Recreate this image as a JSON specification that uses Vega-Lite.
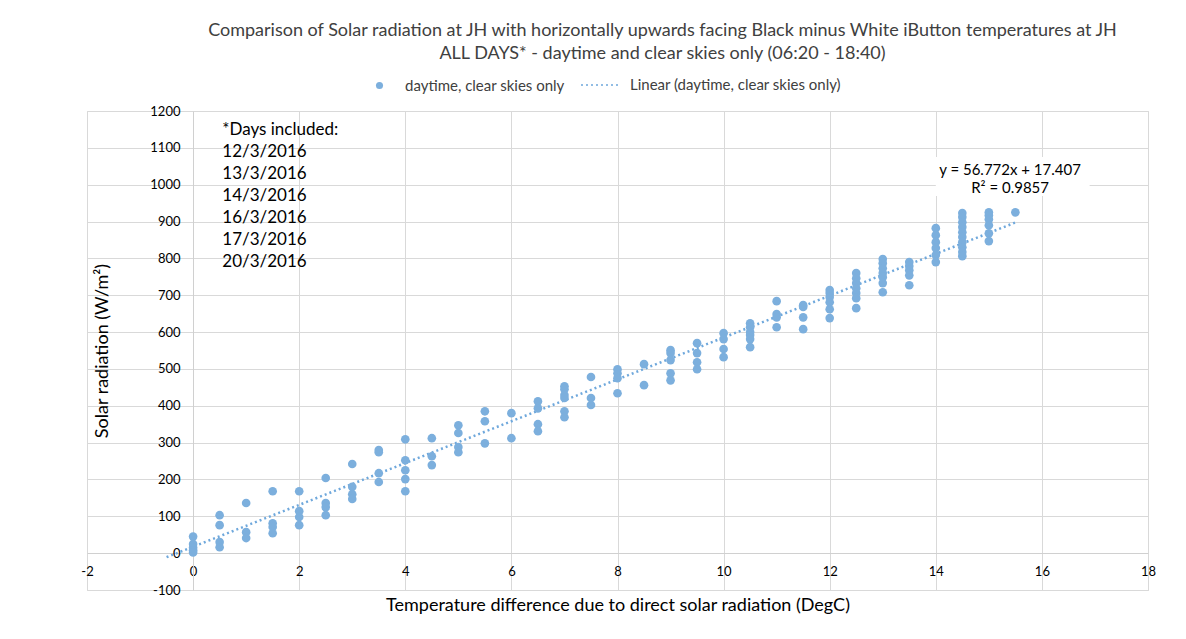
{
  "$schema": "https://vega.github.io/schema/vega-lite/v6.json",
  "width": 1061,
  "height": 479,
  "autosize": {"type": "none"},
  "padding": {"left": 87, "top": 111, "right": 38, "bottom": 49},
  "background": "white",
  "config": {
    "font": "Lato",
    "view": {"stroke": "#d9d9d9"},
    "axis": {"gridColor": "#d9d9d9", "domainColor": "#d0d0d0", "ticks": false, "labelFont": "Lato", "labelFontSize": 13, "labelColor": "#000000", "titleFont": "Lato", "titleFontWeight": "normal", "titleFontSize": 18, "titleColor": "#000000", "labelOverlap": false, "labelBound": false, "labelFlush": false}
  },
  "title": {
    "text": ["Comparison of Solar radiation at JH with horizontally upwards facing Black minus White iButton temperatures at JH", "ALL DAYS* - daytime and clear skies only (06:20 - 18:40)"],
    "font": "Lato",
    "fontSize": 18,
    "fontWeight": "normal",
    "color": "#404040",
    "anchor": "middle",
    "dx": 45,
    "offset": 1,
    "lineHeight": 23
  },
  "datasets": {
    "points": [
      {"dT": 0, "rad": 45}, {"dT": 0, "rad": 25}, {"dT": 0, "rad": 15}, {"dT": 0, "rad": 8}, {"dT": 0, "rad": 2},
      {"dT": 0.5, "rad": 103}, {"dT": 0.5, "rad": 76}, {"dT": 0.5, "rad": 30}, {"dT": 0.5, "rad": 16},
      {"dT": 1, "rad": 136}, {"dT": 1, "rad": 57}, {"dT": 1, "rad": 41},
      {"dT": 1.5, "rad": 168}, {"dT": 1.5, "rad": 81}, {"dT": 1.5, "rad": 71}, {"dT": 1.5, "rad": 54},
      {"dT": 2, "rad": 168}, {"dT": 2, "rad": 114}, {"dT": 2, "rad": 98}, {"dT": 2, "rad": 76},
      {"dT": 2.5, "rad": 204}, {"dT": 2.5, "rad": 136}, {"dT": 2.5, "rad": 125}, {"dT": 2.5, "rad": 103},
      {"dT": 3, "rad": 242}, {"dT": 3, "rad": 180}, {"dT": 3, "rad": 160}, {"dT": 3, "rad": 147},
      {"dT": 3.5, "rad": 280}, {"dT": 3.5, "rad": 274}, {"dT": 3.5, "rad": 217}, {"dT": 3.5, "rad": 193},
      {"dT": 4, "rad": 309}, {"dT": 4, "rad": 252}, {"dT": 4, "rad": 225}, {"dT": 4, "rad": 201}, {"dT": 4, "rad": 168},
      {"dT": 4.5, "rad": 312}, {"dT": 4.5, "rad": 263}, {"dT": 4.5, "rad": 239},
      {"dT": 5, "rad": 347}, {"dT": 5, "rad": 326}, {"dT": 5, "rad": 288}, {"dT": 5, "rad": 274},
      {"dT": 5.5, "rad": 385}, {"dT": 5.5, "rad": 358}, {"dT": 5.5, "rad": 298},
      {"dT": 6, "rad": 380}, {"dT": 6, "rad": 312},
      {"dT": 6.5, "rad": 412}, {"dT": 6.5, "rad": 393}, {"dT": 6.5, "rad": 350}, {"dT": 6.5, "rad": 331},
      {"dT": 7, "rad": 453}, {"dT": 7, "rad": 445}, {"dT": 7, "rad": 429}, {"dT": 7, "rad": 421}, {"dT": 7, "rad": 385}, {"dT": 7, "rad": 369},
      {"dT": 7.5, "rad": 478}, {"dT": 7.5, "rad": 421}, {"dT": 7.5, "rad": 402},
      {"dT": 8, "rad": 499}, {"dT": 8, "rad": 488}, {"dT": 8, "rad": 475}, {"dT": 8, "rad": 434},
      {"dT": 8.5, "rad": 513}, {"dT": 8.5, "rad": 456},
      {"dT": 9, "rad": 551}, {"dT": 9, "rad": 543}, {"dT": 9, "rad": 524}, {"dT": 9, "rad": 488}, {"dT": 9, "rad": 469},
      {"dT": 9.5, "rad": 570}, {"dT": 9.5, "rad": 543}, {"dT": 9.5, "rad": 518}, {"dT": 9.5, "rad": 499},
      {"dT": 10, "rad": 597}, {"dT": 10, "rad": 581}, {"dT": 10, "rad": 554}, {"dT": 10, "rad": 532},
      {"dT": 10.5, "rad": 624}, {"dT": 10.5, "rad": 613}, {"dT": 10.5, "rad": 600}, {"dT": 10.5, "rad": 592}, {"dT": 10.5, "rad": 581}, {"dT": 10.5, "rad": 559},
      {"dT": 11, "rad": 684}, {"dT": 11, "rad": 649}, {"dT": 11, "rad": 640}, {"dT": 11, "rad": 613},
      {"dT": 11.5, "rad": 673}, {"dT": 11.5, "rad": 668}, {"dT": 11.5, "rad": 640}, {"dT": 11.5, "rad": 608},
      {"dT": 12, "rad": 714}, {"dT": 12, "rad": 706}, {"dT": 12, "rad": 695}, {"dT": 12, "rad": 681}, {"dT": 12, "rad": 662}, {"dT": 12, "rad": 638},
      {"dT": 12.5, "rad": 760}, {"dT": 12.5, "rad": 746}, {"dT": 12.5, "rad": 733}, {"dT": 12.5, "rad": 719}, {"dT": 12.5, "rad": 706}, {"dT": 12.5, "rad": 692}, {"dT": 12.5, "rad": 665},
      {"dT": 13, "rad": 798}, {"dT": 13, "rad": 787}, {"dT": 13, "rad": 773}, {"dT": 13, "rad": 760}, {"dT": 13, "rad": 749}, {"dT": 13, "rad": 733}, {"dT": 13, "rad": 708},
      {"dT": 13.5, "rad": 790}, {"dT": 13.5, "rad": 779}, {"dT": 13.5, "rad": 768}, {"dT": 13.5, "rad": 754}, {"dT": 13.5, "rad": 727},
      {"dT": 14, "rad": 882}, {"dT": 14, "rad": 863}, {"dT": 14, "rad": 844}, {"dT": 14, "rad": 828}, {"dT": 14, "rad": 809}, {"dT": 14, "rad": 790},
      {"dT": 14.5, "rad": 923}, {"dT": 14.5, "rad": 912}, {"dT": 14.5, "rad": 898}, {"dT": 14.5, "rad": 885}, {"dT": 14.5, "rad": 871}, {"dT": 14.5, "rad": 858}, {"dT": 14.5, "rad": 844}, {"dT": 14.5, "rad": 830}, {"dT": 14.5, "rad": 817}, {"dT": 14.5, "rad": 806},
      {"dT": 15, "rad": 925}, {"dT": 15, "rad": 917}, {"dT": 15, "rad": 906}, {"dT": 15, "rad": 890}, {"dT": 15, "rad": 868}, {"dT": 15, "rad": 847},
      {"dT": 15.5, "rad": 925}
    ],
    "trend": [
      {"dT": -0.5, "rad": -11.0},
      {"dT": 15.5, "rad": 897.4}
    ],
    "one": [{}]
  },
  "layer": [
    {
      "data": {"name": "trend"},
      "mark": {"type": "line", "color": "#6fa8dc", "strokeWidth": 2.5, "strokeDash": [2, 4], "clip": false},
      "encoding": {
        "x": {"field": "dT", "type": "quantitative", "scale": {"domain": [-2, 18], "nice": false, "zero": false},
          "axis": {"values": [-2, 0, 2, 4, 6, 8, 10, 12, 14, 16, 18], "tickCount": 11, "format": "d", "labelExpr": "replace(datum.label, '\u2212', '-')", "offset": -37, "labelPadding": 12, "title": "Temperature difference due to direct solar radiation (DegC)", "titlePadding": 18}},
        "y": {"field": "rad", "type": "quantitative", "scale": {"domain": [-100, 1200], "nice": false, "zero": false},
          "axis": {"values": [-100, 0, 100, 200, 300, 400, 500, 600, 700, 800, 900, 1000, 1100, 1200], "tickCount": 14, "format": "d", "labelExpr": "replace(datum.label, '\u2212', '-')", "offset": -106, "labelPadding": 13, "title": "Solar radiation (W/m²)", "titlePadding": 38}},
        "strokeDash": {"datum": "Linear (daytime, clear skies only)", "type": "nominal", "scale": {"range": [[2, 3]]},
          "legend": {"title": null, "orient": "none", "legendX": 493, "legendY": -47, "symbolType": "stroke", "symbolSize": 1600, "symbolStrokeColor": "#6fa8dc", "symbolStrokeWidth": 1.5, "labelFontSize": 15, "labelColor": "#404040", "labelFont": "Lato", "labelLimit": 0, "labelOffset": 8}}
      }
    },
    {
      "data": {"name": "points"},
      "mark": {"type": "point", "filled": true, "opacity": 1, "size": 75},
      "encoding": {
        "x": {"field": "dT", "type": "quantitative"},
        "y": {"field": "rad", "type": "quantitative"},
        "color": {"datum": "daytime, clear skies only", "type": "nominal", "scale": {"range": ["#7cafdd"]},
          "legend": {"title": null, "orient": "none", "legendX": 285, "legendY": -33, "symbolType": "circle", "symbolSize": 50, "labelFontSize": 15, "labelColor": "#404040", "labelFont": "Lato", "labelLimit": 0, "labelOffset": 18}}
      }
    },
    {
      "data": {"name": "one"},
      "mark": {"type": "text", "align": "left", "baseline": "top", "fontSize": 17, "lineHeight": 22, "lineBreak": "\n", "color": "#000000", "font": "Lato"},
      "encoding": {
        "x": {"datum": 0.55},
        "y": {"datum": 1170},
        "text": {"value": "*Days included:\n12/3/2016\n13/3/2016\n14/3/2016\n16/3/2016\n17/3/2016\n20/3/2016"}
      }
    },
    {
      "data": {"name": "one"},
      "mark": {"type": "rect", "color": "white"},
      "encoding": {
        "x": {"datum": 14.0},
        "x2": {"datum": 16.9},
        "y": {"datum": 1075},
        "y2": {"datum": 969}
      }
    },
    {
      "data": {"name": "one"},
      "mark": {"type": "text", "align": "center", "baseline": "top", "fontSize": 15, "lineHeight": 18, "lineBreak": "\n", "color": "#000000", "font": "Lato"},
      "encoding": {
        "x": {"datum": 15.4},
        "y": {"datum": 1060},
        "text": {"value": "y = 56.772x + 17.407\nR² = 0.9857"}
      }
    }
  ]
}
